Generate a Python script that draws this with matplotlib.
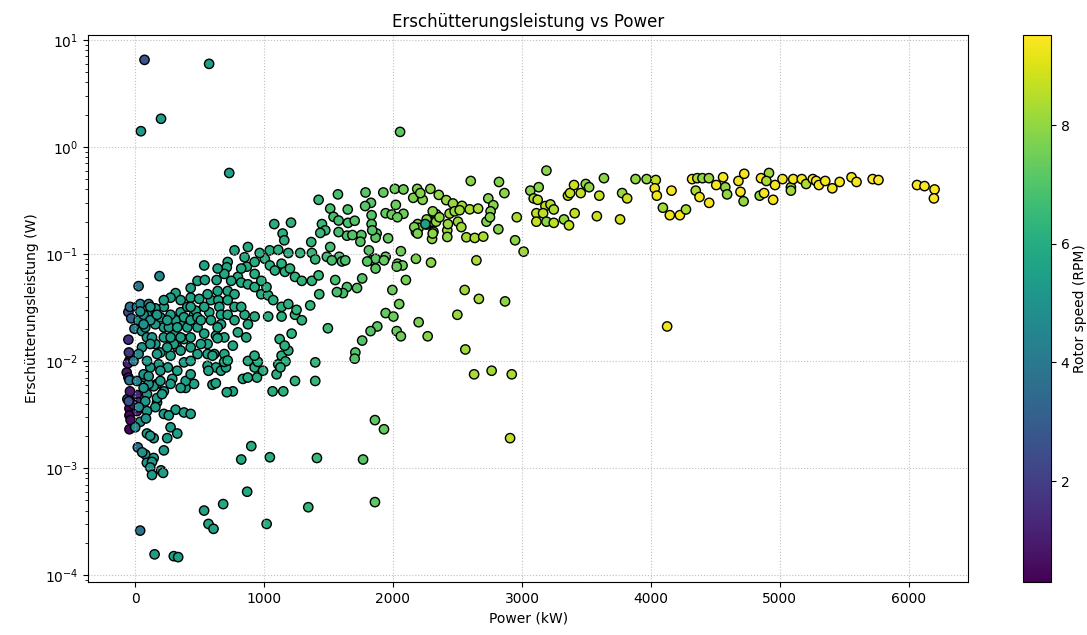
import numpy as np
import matplotlib
matplotlib.use("Agg")
import matplotlib.pyplot as plt

# idle / very low rotor speed column near 0 kW
p_idle = [-52, -40, -52, -44, -65, -52, -44, -60, -44, -44, -44, 13, 27, 14, -12, -40, -48, -30, -50, -35, -55]
v_idle = [0.0286, 0.032, 0.0158, 0.0101, 0.0078, 0.0070, 0.0066, 0.0044, 0.0036, 0.0031, 0.0023,
          0.0048, 0.0041, 0.0034, 0.0039, 0.0052, 0.0120, 0.0250, 0.0042, 0.0028, 0.0095]
r_idle = [2.5, 3.6, 1.5, 2.2, 0.9, 0.8, 3.8, 2.4, 0.4, 0.5, 0.5, 1.4, 1.6, 1.2, 1.0, 1.0, 1.8, 3.2, 2.6, 0.6, 1.1]

# start-up points (blue)
p_start = [27, -12, 14, 40, 170, 170, 105, 189, 39, 14, 21, -5]
v_start = [0.050, 0.010, 0.032, 0.034, 0.0061, 0.0041, 0.034, 0.062, 0.00026, 0.0065, 0.00156, 0.020]
r_start = [4.0, 3.9, 4.0, 4.3, 4.0, 4.5, 4.6, 4.6, 3.8, 4.4, 3.6, 4.2]

# low power cluster 0-500 kW
p_low = [314, 431, 353, 301, 327, 379, 431, 484, 405, 457,
         353, 405, 470, 314, 275, 223, 157, 92, 27, 53,
         92, 157, 196, 275, 379, 327, 254, 183, 118, 79,
         144, 196, 223, 288, 392, 457, 392, 431, 223, 157,
         79, 196, 262, 223, 301, 353, 53, 27, 66, 105,
         92, 170, 209, 157, 223, 314, 379, 431, 275, 249,
         327, 144, 92, 40, 92, 79, 1, 79, 144, 223,
         66, 118, 170, 249, 327, 379, 431, 484, 431, 275,
         131, 170, 249, 353, 484, 66, 118, 92, 196, 275,
         353, 105, 66, 431, 431, 353, 275, 431, 223, 118,
         40, 484, 55, 91, 131, 117, 131, 201, 217, 117,
         261, 84, 29]
v_low = [0.043, 0.048, 0.022, 0.018, 0.0134, 0.016, 0.0166, 0.0206, 0.0206, 0.027,
         0.0285, 0.032, 0.0295, 0.024, 0.027, 0.032, 0.031, 0.027, 0.024, 0.019,
         0.0166, 0.0144, 0.012, 0.0112, 0.0097, 0.0081, 0.0087, 0.0093, 0.0087, 0.0070,
         0.0058, 0.0065, 0.0052, 0.0068, 0.0056, 0.0061, 0.0065, 0.0075, 0.0206, 0.022,
         0.0206, 0.0256, 0.0206, 0.0166, 0.0144, 0.0125, 0.0134, 0.0116, 0.0075, 0.0061,
         0.0049, 0.0045, 0.0049, 0.0037, 0.0032, 0.0035, 0.0033, 0.0032, 0.0024, 0.0019,
         0.0021, 0.0019, 0.0021, 0.0027, 0.0034, 0.0042, 0.0024, 0.00134, 0.00124, 0.00146,
         0.027, 0.024, 0.027, 0.024, 0.0206, 0.0256, 0.024, 0.0256, 0.0134, 0.0166,
         0.0166, 0.0116, 0.0134, 0.0166, 0.0116, 0.022, 0.0144, 0.010, 0.0081, 0.0061,
         0.0056, 0.0072, 0.0056, 0.010, 0.039, 0.037, 0.039, 0.032, 0.037, 0.032,
         0.029, 0.056, 0.0014, 0.00112, 0.00114, 0.00101, 0.00086, 0.00095, 0.0009, 0.0020,
         0.0031, 0.0029, 0.0037]
r_low = [5.5, 5.6, 5.5, 5.5, 5.5, 5.6, 5.6, 5.6, 5.5, 5.6,
         5.5, 5.6, 5.6, 5.5, 5.4, 5.4, 5.3, 5.2, 4.7, 5.0,
         5.2, 5.3, 5.4, 5.5, 5.5, 5.5, 5.4, 5.3, 5.2, 5.1,
         5.3, 5.4, 5.4, 5.5, 5.5, 5.6, 5.5, 5.6, 5.4, 5.3,
         5.1, 5.3, 5.4, 5.4, 5.5, 5.5, 5.0, 4.8, 5.1, 5.2,
         5.2, 5.3, 5.4, 5.3, 5.4, 5.5, 5.5, 5.6, 5.4, 5.4,
         5.5, 5.3, 5.2, 4.9, 5.2, 5.1, 4.8, 5.1, 5.3, 5.4,
         5.0, 5.2, 5.3, 5.4, 5.5, 5.5, 5.6, 5.6, 5.6, 5.4,
         5.2, 5.3, 5.4, 5.5, 5.6, 5.0, 5.2, 5.2, 5.3, 5.4,
         5.5, 5.2, 5.1, 5.6, 5.6, 5.5, 5.4, 5.6, 5.4, 5.2,
         4.9, 5.7, 5.0, 5.2, 5.2, 5.2, 5.3, 5.4, 5.4, 5.2,
         5.4, 5.1, 4.8]

# mid power cluster 500-1500 kW
p_mid = [536, 718, 711, 849, 867, 927, 1006, 1045, 1084, 1136,
         1162, 1201, 1240, 1293, 1371, 1423, 1428, 541, 632, 497,
         588, 645, 718, 771, 797, 823, 875, 927, 979, 1032,
         1019, 1071, 1136, 1188, 1240, 1293, 1358, 1136, 1214, 1032,
         927, 849, 797, 862, 875, 758, 692, 666, 653, 575,
         510, 536, 627, 614, 562, 627, 666, 705, 758, 711,
         875, 927, 992, 1110, 1136, 1188, 1240, 1097, 1066, 1149,
         836, 945, 1397, 1397, 536, 588, 666, 718, 771, 640,
         692, 562, 510, 562, 771, 823, 718, 640, 562, 745,
         823, 927, 979, 692, 640, 771, 875, 966, 1044, 1110,
         1188, 1280, 1371, 1079, 1209, 1144, 1157, 1366, 1449, 1475,
         1436, 1397, 1423, 874, 952, 926, 1121, 1160, 1166, 1127,
         1252, 1495, 600, 626, 691, 718, 600, 639, 569]
v_mid = [0.078, 0.084, 0.075, 0.093, 0.076, 0.084, 0.090, 0.078, 0.070, 0.081,
         0.068, 0.073, 0.061, 0.056, 0.056, 0.063, 0.042, 0.057, 0.057, 0.038,
         0.037, 0.037, 0.045, 0.042, 0.061, 0.054, 0.052, 0.049, 0.042, 0.041,
         0.049, 0.037, 0.032, 0.034, 0.027, 0.024, 0.033, 0.026, 0.018, 0.026,
         0.026, 0.027, 0.0185, 0.0166, 0.022, 0.0139, 0.0116, 0.022, 0.032, 0.0285,
         0.024, 0.018, 0.0172, 0.0116, 0.009, 0.0087, 0.0081, 0.0087, 0.0052, 0.0051,
         0.010, 0.0087, 0.0081, 0.0093, 0.0112, 0.0125, 0.0065, 0.0075, 0.0052, 0.0052,
         0.0068, 0.0070, 0.0097, 0.0065, 0.032, 0.024, 0.027, 0.027, 0.032, 0.0206,
         0.0166, 0.0144, 0.0144, 0.0116, 0.024, 0.032, 0.037, 0.045, 0.042, 0.056,
         0.073, 0.065, 0.056, 0.065, 0.073, 0.108, 0.116, 0.102, 0.108, 0.109,
         0.102, 0.102, 0.102, 0.19, 0.196, 0.155, 0.134, 0.129, 0.19, 0.166,
         0.157, 0.089, 0.32, 0.0070, 0.0098, 0.0112, 0.016, 0.0139, 0.0099, 0.0087,
         0.030, 0.0202, 0.0060, 0.0062, 0.0098, 0.0101, 0.0112, 0.0163, 0.0081]
r_mid = [5.7, 5.8, 5.8, 5.9, 5.9, 6.0, 6.1, 6.1, 6.1, 6.2,
         6.2, 6.3, 6.3, 6.3, 6.4, 6.5, 6.5, 5.7, 5.7, 5.6,
         5.7, 5.7, 5.8, 5.8, 5.9, 5.9, 5.9, 6.0, 6.0, 6.1,
         6.1, 6.1, 6.2, 6.2, 6.3, 6.3, 6.4, 6.2, 6.3, 6.1,
         6.0, 5.9, 5.9, 5.9, 5.9, 5.8, 5.8, 5.7, 5.7, 5.7,
         5.6, 5.7, 5.7, 5.7, 5.7, 5.7, 5.7, 5.8, 5.8, 5.8,
         5.9, 6.0, 6.0, 6.2, 6.2, 6.2, 6.3, 6.1, 6.1, 6.2,
         5.9, 6.0, 6.4, 6.4, 5.7, 5.7, 5.7, 5.8, 5.8, 5.7,
         5.8, 5.7, 5.6, 5.7, 5.8, 5.9, 5.8, 5.7, 5.7, 5.8,
         5.9, 6.0, 6.0, 5.8, 5.7, 5.8, 5.9, 6.0, 6.1, 6.2,
         6.2, 6.3, 6.4, 6.1, 6.3, 6.2, 6.2, 6.4, 6.5, 6.5,
         6.5, 6.4, 6.5, 5.9, 6.0, 6.0, 6.2, 6.2, 6.2, 6.2,
         6.3, 6.6, 5.7, 5.7, 5.8, 5.8, 5.7, 5.7, 5.7]

# ramp-up 1500-2700 kW
p_ramp = [1573, 1513, 1649, 1787, 1925, 1829, 1784, 1834, 1834, 1873,
          1943, 1990, 2081, 2022, 2014, 2081, 2157, 2188, 2230, 2290,
          2355, 2413, 2465, 2535, 2595, 2660, 2603, 2191, 2261, 2335,
          2439, 2308, 2421, 2421, 2569, 2634, 2303, 2178, 2199, 2314,
          1962, 1865, 1539, 1578, 1651, 1703, 1643, 1685, 1755, 1513,
          1583, 1487, 1813, 1834, 1865, 1943, 2035, 2061, 2074, 2100,
          1995, 2048, 1943, 2003, 2199, 2499, 2556, 2666, 2647, 2295,
          2178, 1761, 1643, 1578, 1747, 1839, 2034, 2165, 2191, 2308,
          2334, 2426, 2504, 2530, 2700, 2308, 2261, 2360, 2478, 2517,
          2212, 1526, 1604, 1630, 1612, 1565, 1552, 1721, 1800, 1865,
          1930, 2029, 1878, 1826, 1761, 1708, 1703, 2029, 2061, 2269,
          2561, 2629]
v_ramp = [0.36, 0.265, 0.26, 0.375, 0.375, 0.30, 0.28, 0.23, 0.19, 0.155,
          0.24, 0.233, 0.237, 0.287, 0.405, 0.40, 0.334, 0.405, 0.32, 0.405,
          0.356, 0.318, 0.296, 0.281, 0.261, 0.265, 0.48, 0.19, 0.188, 0.235,
          0.238, 0.20, 0.166, 0.144, 0.143, 0.141, 0.138, 0.16, 0.175, 0.161,
          0.14, 0.142, 0.222, 0.205, 0.195, 0.204, 0.148, 0.15, 0.15, 0.116,
          0.094, 0.094, 0.108, 0.087, 0.09, 0.094, 0.081, 0.106, 0.078, 0.057,
          0.046, 0.034, 0.028, 0.026, 0.023, 0.027, 0.046, 0.038, 0.087, 0.083,
          0.09, 0.059, 0.049, 0.16, 0.13, 0.166, 0.22, 0.178, 0.155, 0.155,
          0.20, 0.19, 0.20, 0.178, 0.145, 0.25, 0.21, 0.22, 0.25, 0.256,
          0.37, 0.087, 0.085, 0.087, 0.043, 0.044, 0.057, 0.048, 0.085, 0.073,
          0.087, 0.076, 0.021, 0.019, 0.0155, 0.012, 0.0105, 0.019, 0.017, 0.017,
          0.0128, 0.0075]
r_ramp = [6.8, 6.8, 6.9, 7.1, 7.3, 7.1, 7.1, 7.1, 7.1, 7.2,
          7.3, 7.4, 7.5, 7.4, 7.4, 7.5, 7.7, 7.7, 7.8, 7.9,
          8.0, 8.1, 8.1, 8.2, 8.3, 8.3, 7.9, 7.7, 7.8, 8.0,
          8.1, 7.9, 8.1, 8.0, 8.2, 8.3, 7.9, 7.7, 7.7, 7.9,
          7.3, 7.2, 6.8, 6.8, 6.9, 7.0, 6.9, 7.0, 7.0, 6.8,
          6.8, 6.7, 7.1, 7.1, 7.2, 7.3, 7.4, 7.5, 7.5, 7.6,
          7.4, 7.5, 7.3, 7.4, 7.7, 8.1, 8.2, 8.3, 8.3, 7.9,
          7.7, 7.0, 6.9, 6.8, 7.0, 7.1, 7.4, 7.7, 7.7, 7.9,
          8.0, 8.1, 8.1, 8.2, 8.4, 7.9, 7.8, 8.0, 8.1, 8.2,
          7.8, 6.8, 6.8, 6.9, 6.8, 6.8, 6.8, 7.0, 7.1, 7.2,
          7.3, 7.4, 7.2, 7.1, 7.0, 7.0, 7.0, 7.4, 7.5, 7.8,
          8.2, 8.3]

# upper range 2700-4000 kW
p_upper = [2739, 2778, 2757, 2725, 2752, 2817, 2864, 2822, 3190, 2765,
           2921, 2908, 2869, 2947, 3013, 2960, 3636, 3881, 3967, 3065,
           3130, 3091, 3122, 3182, 3221, 3247, 3112, 3164, 3112, 3190,
           3247, 3326, 3365, 3409, 3357, 3373, 3404, 3456, 3495, 3521,
           3600, 3581, 3761, 3777, 3816]
v_upper = [0.33, 0.285, 0.25, 0.20, 0.22, 0.17, 0.37, 0.47, 0.60, 0.0081,
           0.0075, 0.0019, 0.036, 0.134, 0.105, 0.22, 0.51, 0.50, 0.50, 0.39,
           0.42, 0.33, 0.32, 0.28, 0.29, 0.26, 0.24, 0.24, 0.20, 0.20,
           0.195, 0.21, 0.185, 0.24, 0.35, 0.37, 0.44, 0.37, 0.45, 0.42,
           0.35, 0.225, 0.21, 0.37, 0.33]
r_upper = [7.8, 7.8, 7.8, 7.7, 7.8, 7.8, 7.9, 7.8, 7.9, 8.2,
           8.3, 8.6, 7.9, 7.9, 8.2, 8.4, 7.9, 8.0, 8.0, 7.9,
           7.9, 8.2, 8.6, 8.6, 8.5, 8.4, 8.6, 8.6, 8.7, 7.9,
           8.6, 8.0, 8.7, 8.7, 8.7, 8.7, 8.8, 8.7, 8.0, 8.0,
           8.7, 8.8, 8.9, 8.1, 8.8]

# rated region 4000-6200 kW
p_rated = [4038, 4030, 4046, 4160, 4093, 4147, 4225, 4272, 4320, 4360,
           4400, 4450, 4348, 4377, 4452, 4507, 4560, 4577, 4591, 4679,
           4724, 4695, 4719, 4844, 4878, 4948, 4854, 4916, 4963, 4896,
           5021, 5086, 5086, 5104, 5170, 5204, 5256, 5282, 5303, 5352,
           5407, 5464, 5556, 5595, 5720, 5765, 6064, 6122, 6200, 6195,
           4126]
v_rated = [0.49, 0.41, 0.35, 0.39, 0.27, 0.23, 0.23, 0.26, 0.50, 0.51,
           0.51, 0.51, 0.39, 0.34, 0.30, 0.44, 0.52, 0.42, 0.36, 0.48,
           0.56, 0.38, 0.31, 0.35, 0.37, 0.32, 0.51, 0.57, 0.44, 0.48,
           0.50, 0.42, 0.39, 0.50, 0.50, 0.45, 0.50, 0.48, 0.44, 0.48,
           0.41, 0.47, 0.52, 0.47, 0.50, 0.49, 0.44, 0.43, 0.40, 0.33,
           0.021]
r_rated = [8.6, 9.3, 9.3, 9.4, 8.2, 9.3, 9.4, 8.3, 9.4, 8.3,
           8.0, 8.1, 8.3, 9.3, 9.4, 9.4, 9.4, 8.0, 8.0, 9.3,
           9.4, 9.4, 8.0, 8.0, 9.4, 9.4, 9.5, 8.2, 9.4, 8.3,
           9.4, 8.2, 8.2, 9.4, 9.4, 8.4, 9.4, 9.5, 9.4, 9.4,
           9.4, 9.4, 9.3, 9.4, 9.5, 9.5, 9.5, 9.5, 9.5, 9.5,
           9.3]

# scattered low readings
p_sparse = [901, 823, 1045, 1410, 869, 683, 535, 569, 608, 1020, 1343, 151, 300, 334, 1768, 1860, 1860, 1930]
v_sparse = [0.0016, 0.0012, 0.00126, 0.00124, 0.0006, 0.00046, 0.0004, 0.0003, 0.00027, 0.0003,
            0.00043, 0.000156, 0.00015, 0.000147, 0.0012, 0.00048, 0.0028, 0.0023]
r_sparse = [6.0, 5.9, 6.1, 6.5, 5.9, 5.8, 5.7, 5.7, 5.7, 6.0, 6.4, 5.4, 5.5, 5.5, 7.1, 7.2, 7.2, 7.3]

# high outliers
p_high = [73, 574, 201, 45, 2055, 730, 2251]
v_high = [6.5, 5.96, 1.83, 1.40, 1.38, 0.57, 0.19]
r_high = [2.7, 5.4, 5.4, 5.3, 7.2, 5.6, 5.5]

power = np.concatenate([p_idle, p_start, p_low, p_mid, p_ramp, p_upper, p_rated, p_sparse, p_high])
vib = np.concatenate([v_idle, v_start, v_low, v_mid, v_ramp, v_upper, v_rated, v_sparse, v_high])
rpm = np.concatenate([r_idle, r_start, r_low, r_mid, r_ramp, r_upper, r_rated, r_sparse, r_high])

fig = plt.figure(figsize=(10.87, 6.35), dpi=100)
ax = fig.add_axes([0.081, 0.0835, 0.8096, 0.8614])
cax = fig.add_axes([0.9411, 0.0835, 0.0258, 0.8614])

sc = ax.scatter(power, vib, c=rpm, cmap="viridis", vmin=0.3, vmax=9.52,
                s=45, edgecolors="black", linewidths=1)
ax.set_yscale("log")
ax.set_xlim(-365, 6460)
ax.set_title("Erschütterungsleistung vs Power")
ax.set_xlabel("Power (kW)")
ax.set_ylabel("Erschütterungsleistung (W)")
ax.grid(True, linestyle=":", alpha=0.8)

cb = fig.colorbar(sc, cax=cax)
cb.set_label("Rotor speed (RPM)", labelpad=2.5)

fig.savefig("out.png", dpi=100)
